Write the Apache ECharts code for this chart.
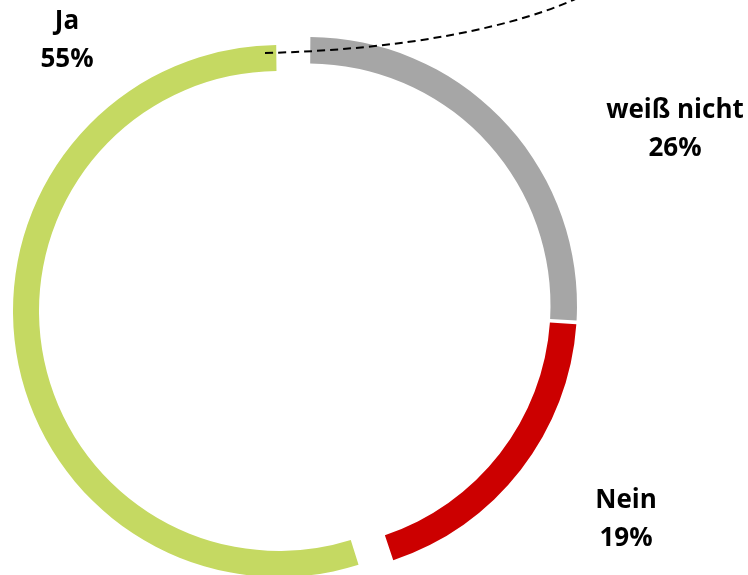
<!DOCTYPE html>
<html>
<head>
<meta charset="utf-8">
<script src="https://cdn.jsdelivr.net/npm/echarts@6/dist/echarts.min.js"></script>
<style>
  html, body { margin: 0; padding: 0; background: #fff; }
  #main { width: 748px; height: 575px; }
</style>
</head>
<body>
<div id="main"></div>
<script>
// Antworten, im Uhrzeigersinn ab 12 Uhr
var categories = ['weiß nicht', 'Nein', 'Ja'];
var values = [26, 19, 55];
var colors = ['#a6a6a6', '#cc0000', '#c5d962'];
// Label-Positionen (Mitte des Textblocks)
var labelPos = [[675, 130], [626, 520], [67, 41]];

var myChart = echarts.init(document.getElementById('main'));

// show = welche Segmente diese Serie zeichnet
function buildData(show) {
    return categories.map(function (name, i) {
        var visible = show.indexOf(i) >= 0;
        return {
            name: name,
            value: values[i],
            itemStyle: { color: visible ? colors[i] : 'rgba(0,0,0,0)' },
            label: { show: visible }
        };
    });
}

var labelStyle = {
    position: 'inside',
    formatter: function (p) { return p.name + '\n' + p.value + '%'; },
    fontFamily: 'Open Sans',
    fontWeight: 'bold',
    fontSize: 26,
    lineHeight: 38,
    color: '#000',
    align: 'center'
};

function layoutLabel(p) {
    var pos = labelPos[p.dataIndex];
    return { x: pos[0], y: pos[1], align: 'center', verticalAlign: 'middle' };
}

var option = {
    animation: false,
    series: [
        {
            // weiß nicht + Nein (herausgezogen)
            type: 'pie',
            center: [308.5, 305.5],
            radius: [242, 268.5],
            startAngle: 90,
            padAngle: 0.8,
            silent: true,
            label: labelStyle,
            labelLine: { show: false },
            labelLayout: layoutLabel,
            data: buildData([0, 1])
        },
        {
            // Ja
            type: 'pie',
            center: [279, 311],
            radius: [240, 266],
            startAngle: 90,
            padAngle: 1.2,
            silent: true,
            label: labelStyle,
            labelLine: { show: false },
            labelLayout: layoutLabel,
            data: buildData([2])
        }
    ],
    graphic: [
        {
            type: 'bezierCurve',
            z: 100,
            shape: { x1: 265, y1: 53, cpx1: 400, cpy1: 50, cpx2: 520, cpy2: 28, x2: 590, y2: -8 },
            style: { stroke: '#000', lineWidth: 2, lineDash: [8, 5], fill: null }
        }
    ]
};
myChart.setOption(option);
</script>
</body>
</html>
